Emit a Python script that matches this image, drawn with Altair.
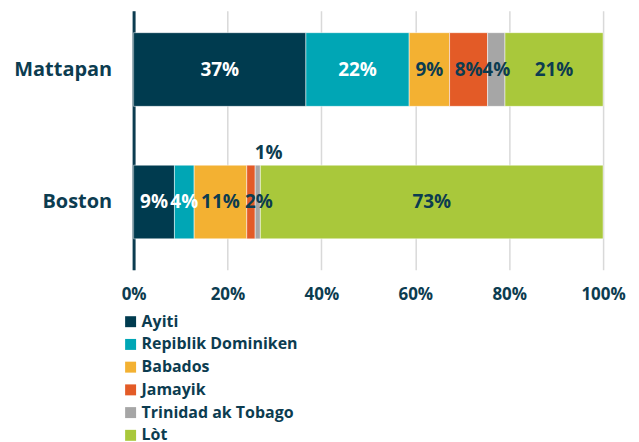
import altair as alt
import pandas as pd

cities = ["Mattapan", "Boston"]
categories = ["Ayiti", "Repiblik Dominiken", "Babados", "Jamayik", "Trinidad ak Tobago", "Lòt"]
colors = ["#003b4f", "#00a6b5", "#f3b132", "#e35b27", "#a6a6a6", "#a9c83b"]
mattapan_vals = [36.7, 22.0, 8.6, 8.1, 3.7, 20.9]
boston_vals = [8.7, 4.2, 11.2, 1.8, 1.1, 73.0]

TEXT = "#0c3c50"
FONT = "Open Sans"

rows = []
for city, vals in zip(cities, [mattapan_vals, boston_vals]):
    for i, (cat, v) in enumerate(zip(categories, vals)):
        rows.append({"city": city, "category": cat, "value": v, "order": i})
df = pd.DataFrame(rows)

base = alt.Chart(df).transform_stack(
    stack="value", groupby=["city"], as_=["v0", "v1"], sort=[alt.SortField("order")]
).transform_calculate(mid="(datum.v0 + datum.v1) / 2")

yenc = alt.Y(
    "city:N",
    sort=cities,
    title=None,
    scale=alt.Scale(paddingInner=0.444, paddingOuter=0.2, align=0.415),
    axis=alt.Axis(
        labelFont=FONT, labelFontSize=20, labelFontWeight="bold", labelColor=TEXT,
        ticks=False, labelPadding=22, domainColor=TEXT, domainWidth=3, grid=False,
    ),
)

bars = base.mark_bar(stroke="white", strokeWidth=0.5).encode(
    x=alt.X(
        "v0:Q",
        scale=alt.Scale(domain=[0, 100]),
        title=None,
        axis=alt.Axis(
            values=[0, 20, 40, 60, 80, 100], labelExpr="datum.value + '%'",
            labelFont=FONT, labelFontSize=17, labelFontWeight="bold", labelColor=TEXT,
            ticks=False, domain=False, labelPadding=17, labelFlush=False,
            grid=True, gridColor="#d9d9d9", gridWidth=1.5,
        ),
    ),
    x2="v1:Q",
    y=yenc,
    color=alt.Color(
        "category:N",
        scale=alt.Scale(domain=categories, range=colors),
        sort=categories,
        legend=alt.Legend(
            title=None, orient="none", legendX=-11, legendY=304, direction="vertical",
            symbolType="square", symbolSize=121, symbolStrokeWidth=0,
            labelFont=FONT, labelFontSize=16, labelFontWeight="bold", labelColor=TEXT,
            labelOffset=3, rowPadding=6.8,
        ),
    ),
)

white_cats = ["Ayiti", "Repiblik Dominiken"]
label_text = "format(datum.value, '.0f') + '%'"

def labels(chart, dx=0, dy=0):
    return chart.transform_calculate(lbl=label_text).mark_text(
        font=FONT, fontSize=19, fontWeight="bold", dx=dx, dy=dy
    ).encode(
        x="mid:Q",
        y=alt.Y("city:N", sort=cities),
        text="lbl:N",
        color=alt.condition(
            alt.FieldOneOfPredicate(field="category", oneOf=white_cats),
            alt.value("white"), alt.value(TEXT),
        ),
    )

is_b2 = "datum.city == 'Boston' && datum.category == 'Jamayik'"
is_b1 = "datum.city == 'Boston' && datum.category == 'Trinidad ak Tobago'"

main_labels = labels(base.transform_filter(f"!({is_b2}) && !({is_b1})"))
b2_label = labels(base.transform_filter(is_b2), dx=8)
b1_label = labels(base.transform_filter(is_b1), dx=11, dy=-49)

chart = alt.layer(bars, main_labels, b2_label, b1_label).properties(
    width=471, height=260,
    padding={"left": 5, "top": 2, "right": 5, "bottom": 0},
).configure_view(stroke=None)

chart.save("out.html", embed_options={"renderer": "svg", "actions": False})
